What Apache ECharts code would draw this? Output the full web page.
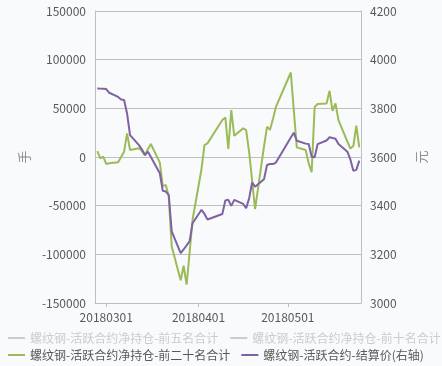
<!DOCTYPE html>
<html><head><meta charset="utf-8">
<script src="https://cdn.jsdelivr.net/npm/echarts@6/dist/echarts.min.js"></script>
<style>html,body{margin:0;padding:0;background:#f9fafc;}#c{width:442px;height:366px;}</style>
</head><body><div id="c"></div>
<script>
const dates = ['2018-02-26','2018-02-27','2018-02-28','2018-03-01','2018-03-02','2018-03-05','2018-03-06','2018-03-07','2018-03-08','2018-03-09',
'2018-03-12','2018-03-13','2018-03-14','2018-03-15','2018-03-16','2018-03-19','2018-03-20','2018-03-21','2018-03-22','2018-03-23',
'2018-03-26','2018-03-27','2018-03-28','2018-03-29','2018-03-30','2018-04-02','2018-04-03','2018-04-04','2018-04-09','2018-04-10',
'2018-04-11','2018-04-12','2018-04-13','2018-04-16','2018-04-17','2018-04-18','2018-04-19','2018-04-20','2018-04-23','2018-04-24',
'2018-04-25','2018-04-26','2018-04-27','2018-05-02','2018-05-03','2018-05-04','2018-05-07','2018-05-08','2018-05-09','2018-05-10',
'2018-05-11','2018-05-14','2018-05-15','2018-05-16','2018-05-17','2018-05-18','2018-05-21','2018-05-22','2018-05-23','2018-05-24','2018-05-25'];
const netTop20 = [6148,-1332,307,-7172,-6500,-5400,0,5500,24300,7200,
9000,6000,2000,8000,13300,-5800,-30000,-28700,-40700,-91900,
-126700,-111700,-131200,-98400,-64500,-12300,12300,14000,38000,40700,
8200,48200,21800,29400,27700,5100,-24200,-53600,11000,31000,
28000,39000,51500,86800,48200,9900,7200,-6500,-15700,51500,
54500,55000,68000,47400,55000,38000,15900,8700,11300,32100,9900];
const settlePrice = [3882,3881,3880,3879,3864,3847,3836,3834,3779,3690,
3649,3631,3608,3622,3600,3533,3461,3458,3444,3294,
3205,3220,3237,3253,3328,3383,3366,3343,3366,3421,
3424,3399,3424,3407,3390,3430,3495,3478,3509,3567,
3571,3571,3577,3680,3700,3667,3655,3653,3601,3599,
3653,3668,3681,3678,3675,3653,3622,3590,3543,3547,3585];
const netTop5 = [];
const netTop10 = [];
const seriesNames = ['螺纹钢-活跃合约净持仓-前五名合计','螺纹钢-活跃合约净持仓-前十名合计','螺纹钢-活跃合约净持仓-前二十名合计','螺纹钢-活跃合约-结算价(右轴)'];
const xTickDates = ['2018-03-01','2018-04-01','2018-05-01'];
const leftAxisName = '手';
const rightAxisName = '元';

function ts(s){const p=s.split('-');return new Date(+p[0],+p[1]-1,+p[2]).getTime();}
function pad(n){return (n<10?'0':'')+n;}
function fmt(v){const d=new Date(v);return d.getFullYear()+pad(d.getMonth()+1)+pad(d.getDate());}
const tickVals = xTickDates.map(ts);
const pair = (arr)=>arr.map((v,i)=>[ts(dates[i]),v]);

const chart = echarts.init(document.getElementById('c'),null,{renderer:'canvas'});
const labelColor='#595959', lineColor='#bfbfbf';
const fontFam = '"Noto Sans CJK SC","Noto Sans",sans-serif';
const legendBase = {
  orient:'horizontal',itemWidth:17,itemHeight:2,icon:'rect',padding:0,width:600,
  textStyle:{color:labelColor,fontSize:12,fontFamily:fontFam},
  inactiveColor:'#cccccc',
  selected:{[seriesNames[0]]:false,[seriesNames[1]]:false}
};
chart.setOption({
  backgroundColor:'#f9fafc',
  animation:false,
  grid:{left:95,right:81,top:11,bottom:63},
  legend:[
    Object.assign({},legendBase,{left:8,top:332,itemGap:12,data:[seriesNames[0],seriesNames[1]]}),
    Object.assign({},legendBase,{left:8,top:349,itemGap:11,data:[seriesNames[2],seriesNames[3]]})
  ],
  xAxis:{
    type:'value',
    min:ts('2018-02-26')-0.77*86400000,
    max:ts('2018-05-25')+0.57*86400000,
    axisLine:{show:true,onZero:false,lineStyle:{color:lineColor}},
    axisTick:{show:true,length:4,lineStyle:{color:lineColor},customValues:tickVals},
    axisLabel:{color:labelColor,fontSize:12,fontFamily:fontFam,margin:8,customValues:tickVals,formatter:(v)=>fmt(v)},
    splitLine:{show:false}
  },
  yAxis:[{
    type:'value',min:-150000,max:150000,interval:50000,
    name:leftAxisName,nameLocation:'middle',nameGap:63,
    nameTextStyle:{color:'#8c8c8c',fontSize:13,fontFamily:fontFam},
    axisLine:{show:true,lineStyle:{color:lineColor}},
    axisTick:{show:false},
    axisLabel:{color:labelColor,fontSize:12,fontFamily:fontFam,margin:9,formatter:(v)=>String(v)},
    splitLine:{show:true,lineStyle:{color:lineColor}}
  },{
    type:'value',min:3000,max:4200,interval:200,
    name:rightAxisName,nameLocation:'middle',nameGap:54,
    nameTextStyle:{color:'#8c8c8c',fontSize:13,fontFamily:fontFam},
    axisLine:{show:true,lineStyle:{color:lineColor}},
    axisTick:{show:false},
    axisLabel:{color:labelColor,fontSize:12,fontFamily:fontFam,margin:9,formatter:(v)=>String(v)},
    splitLine:{show:false}
  }],
  series:[
    {name:seriesNames[0],type:'line',data:pair(netTop5),showSymbol:false,itemStyle:{color:'#bfbfbf'},lineStyle:{width:2}},
    {name:seriesNames[1],type:'line',data:pair(netTop10),showSymbol:false,itemStyle:{color:'#bfbfbf'},lineStyle:{width:2}},
    {name:seriesNames[2],type:'line',data:pair(netTop20),showSymbol:false,symbol:'none',itemStyle:{color:'#9bbb59'},lineStyle:{width:2,color:'#9bbb59'}},
    {name:seriesNames[3],type:'line',yAxisIndex:1,data:pair(settlePrice),showSymbol:false,symbol:'none',itemStyle:{color:'#7f62a1'},lineStyle:{width:2,color:'#7f62a1'}}
  ]
});
</script></body></html>
